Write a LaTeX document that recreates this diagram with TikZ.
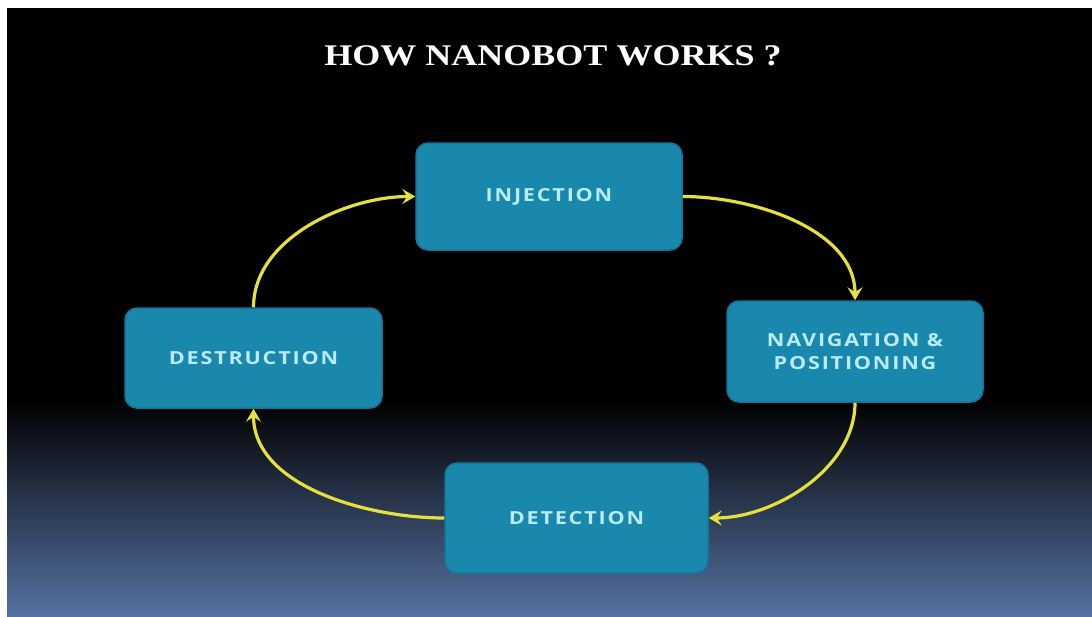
\documentclass[tikz,border=0pt]{standalone}
\usepackage{fontspec}
\setmainfont{Liberation Serif}
\newfontfamily\titlefont[FakeStretch=1.2]{Liberation Serif}
\newfontfamily\boxfont[FakeStretch=1.2,LetterSpace=10]{Open Sans}
\usetikzlibrary{arrows.meta}
\definecolor{boxblue}{HTML}{1A87AD}
\definecolor{boxedge}{HTML}{15769A}
\definecolor{boxtext}{HTML}{B8ECF8}
\definecolor{arrowyellow}{HTML}{E6E03C}
\definecolor{bottomblue}{HTML}{5672A2}
\tikzset{
  stepbox/.style={draw=boxedge, line width=1.5pt, fill=boxblue, rounded corners=12pt,
    inner sep=0pt, align=center, text=boxtext,
    font=\boxfont\bfseries\fontsize{18}{23}\selectfont},
  cyc/.style={draw=arrowyellow, line width=3.2pt,
    -{Stealth[length=13pt,width=15pt,inset=5pt]}}
}
\begin{document}
\begin{tikzpicture}[x=1pt,y=1pt]
\useasboundingbox (0,0) rectangle (1092,-616);
\fill[white] (0,0) rectangle (1092,-616);
\fill[black] (7,-8) rectangle (1092,-402);
\shade[top color=black, bottom color=bottomblue] (7,-400) rectangle (1092,-616);
\node[font=\titlefont\bfseries\fontsize{30}{34}\selectfont, text=white] (title) at (553,-56) {HOW NANOBOT WORKS ?};
\node[stepbox, minimum width=266pt, minimum height=107pt] (inj) at (549,-196.5) {INJECTION};
\node[stepbox, minimum width=256pt, minimum height=101pt] (nav) at (855,-351.5) {NAVIGATION \&\\POSITIONING};
\node[stepbox, minimum width=257pt, minimum height=100pt] (des) at (253.5,-358) {DESTRUCTION};
\node[stepbox, minimum width=263pt, minimum height=110pt] (det) at (576.5,-518) {DETECTION};
\draw[cyc] (inj.east) to[out=0, in=90, looseness=0.9] (nav.north);
\draw[cyc] (nav.south) to[out=-90, in=0, looseness=0.9] (det.east);
\draw[cyc] (det.west) to[out=180, in=-90, looseness=0.9] (des.south);
\draw[cyc] (des.north) to[out=90, in=180, looseness=0.9] (inj.west);
\end{tikzpicture}
\end{document}
